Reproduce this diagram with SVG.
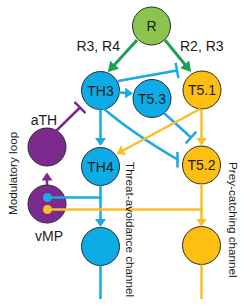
<svg xmlns="http://www.w3.org/2000/svg" width="250" height="306" viewBox="0 0 250 306">
<style>
text{font-family:"Liberation Sans",Arial,sans-serif;fill:#1a1a1a}
.lbl{font-size:14px;text-anchor:middle}
.ann{font-size:14px}
.rot{font-size:11.7px}
circle.n{stroke:#2b2b2b;stroke-width:1}
.blue{fill:#0eacE6}
.yel{fill:#fcbf12}
.pur{fill:#7c2a8e}
.grn{fill:#8cc54e}
.c{fill:none;stroke-width:2.5}
.cb{stroke:#1aa9e2}
.cy{stroke:#f8c024}
.cp{stroke:#7c2a8e}
.cg{stroke:#1e9f52;stroke-width:3}
</style>
<defs>
<marker id="arB" viewBox="0 0 8 11" refX="6" refY="5.5" markerWidth="8" markerHeight="11" markerUnits="userSpaceOnUse" orient="auto"><path d="M0,0 L8,5.5 L0,11 z" fill="#1aa9e2"/></marker>
<marker id="arY" viewBox="0 0 8 11" refX="6" refY="5.5" markerWidth="8" markerHeight="11" markerUnits="userSpaceOnUse" orient="auto"><path d="M0,0 L8,5.5 L0,11 z" fill="#f8c024"/></marker>
<marker id="arP" viewBox="0 0 8 11" refX="6" refY="5.5" markerWidth="8" markerHeight="11" markerUnits="userSpaceOnUse" orient="auto"><path d="M0,0 L8,5.5 L0,11 z" fill="#7c2a8e"/></marker>
<marker id="arG" viewBox="0 0 10 12" refX="8" refY="6" markerWidth="10" markerHeight="12" markerUnits="userSpaceOnUse" orient="auto"><path d="M0,0 L10,6 L0,12 z" fill="#1e9f52"/></marker>
<marker id="inB" viewBox="0 0 3 16" refX="1.5" refY="8" markerWidth="3" markerHeight="16" markerUnits="userSpaceOnUse" orient="auto"><path d="M1.5,0 V16" stroke="#1aa9e2" stroke-width="2.5"/></marker>
<marker id="inB0" viewBox="0 0 3 16" refX="1.5" refY="8" markerWidth="3" markerHeight="16" markerUnits="userSpaceOnUse" orient="0"><path d="M1.5,0 V16" stroke="#1aa9e2" stroke-width="2.5"/></marker>
<marker id="inP" viewBox="0 0 3 16" refX="1.5" refY="8" markerWidth="3" markerHeight="16" markerUnits="userSpaceOnUse" orient="auto"><path d="M1.5,0 V16" stroke="#7c2a8e" stroke-width="2.5"/></marker>
</defs>
<g id="nodes">
<g id="R"><circle class="n grn" cx="151.5" cy="26" r="19"/><text class="lbl" x="151.5" y="31">R</text></g>
<g id="TH3"><circle class="n blue" cx="100.5" cy="90.5" r="19"/><text class="lbl" x="100.5" y="95.5">TH3</text></g>
<g id="T5.3"><circle class="n blue" cx="152" cy="98.5" r="19"/><text class="lbl" x="152" y="103.5">T5.3</text></g>
<g id="T5.1"><circle class="n yel" cx="202" cy="90" r="19"/><text class="lbl" x="202" y="95">T5.1</text></g>
<g id="aTH"><circle class="n pur" cx="47" cy="147" r="19"/><text class="ann" x="44" y="125" text-anchor="middle">aTH</text></g>
<g id="TH4"><circle class="n blue" cx="100.5" cy="166.5" r="19"/><text class="lbl" x="100.5" y="171.5">TH4</text></g>
<g id="T5.2"><circle class="n yel" cx="201.5" cy="165" r="19"/><text class="lbl" x="201.5" y="170">T5.2</text></g>
<g id="vMP"><circle class="n pur" cx="47" cy="204" r="19"/><text class="ann" x="49" y="240.5" text-anchor="middle">vMP</text></g>
<g id="threat-out"><circle class="n blue" cx="100.5" cy="246.5" r="19"/></g>
<g id="prey-out"><circle class="n yel" cx="201.5" cy="245.5" r="19"/></g>
</g>
<g id="connectors">
<line class="c cg" x1="137" y1="40" x2="109.3" y2="70.5" marker-end="url(#arG)"/>
<line class="c cg" x1="165" y1="40" x2="189.7" y2="70.4" marker-end="url(#arG)"/>
<line class="c cb" x1="118" y1="81" x2="177" y2="70.5" marker-end="url(#inB)"/>
<line class="c cb" x1="119" y1="92.5" x2="131" y2="93.3" marker-end="url(#arB)"/>
<line class="c cp" x1="56" y1="131" x2="80" y2="107.5" marker-end="url(#inP)"/>
<line class="c cb" x1="100.5" y1="109.5" x2="100.5" y2="144" marker-end="url(#arB)"/>
<path class="c cb" d="M103,108 Q132,133 177.5,159.5" marker-end="url(#inB0)"/>
<line class="c cb" x1="164" y1="113" x2="191" y2="137.5" marker-end="url(#inB)"/>
<line class="c cy" x1="201.5" y1="109" x2="201.5" y2="143.5" marker-end="url(#arY)"/>
<line class="c cy" x1="200" y1="109" x2="118.3" y2="153" marker-end="url(#arY)"/>
<line class="c cp" x1="47" y1="185" x2="47" y2="174.5" marker-end="url(#arP)"/>
<line class="c cb" x1="100.5" y1="185.5" x2="100.5" y2="225" marker-end="url(#arB)"/>
<line class="c cb" x1="47.5" y1="197.5" x2="101.7" y2="197.5"/>
<line class="c cb" x1="100.5" y1="265.5" x2="100.5" y2="299"/>
<line class="c cy" x1="201.5" y1="184" x2="201.5" y2="224.5" marker-end="url(#arY)"/>
<line class="c cy" x1="47.5" y1="209.5" x2="202.7" y2="209.5"/>
<line class="c cy" x1="201.5" y1="264.5" x2="201.5" y2="299"/>
<circle cx="47.5" cy="197.5" r="4.5" fill="#1aa9e2"/>
<circle cx="47.5" cy="209.5" r="4.5" fill="#f8c024"/>
<text class="ann" x="120" y="50.5" text-anchor="end">R3, R4</text>
<text class="ann" x="180" y="50.5">R2, R3</text>
</g>
<g id="annotations">
<text class="rot" transform="translate(17,215) rotate(-90)">Modulatory loop</text>
<text class="rot" transform="translate(125.5,162) rotate(90)">Threat-avoidance channel</text>
<text class="rot" transform="translate(228.5,162) rotate(90)">Prey-catching channel</text>
</g>
</svg>
